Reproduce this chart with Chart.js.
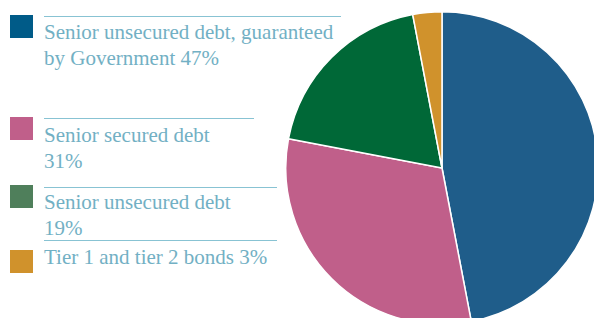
<!DOCTYPE HTML>
<html lang="en">
<head>
    <meta charset="utf-8">
    <title>Debt composition</title>
    <script src="https://cdn.jsdelivr.net/npm/chart.js@4.4.1/dist/chart.umd.min.js"></script>
    <style>
        html, body {
            margin: 0;
            padding: 0;
            width: 594px;
            height: 318px;
            overflow: hidden;
            background: #fff;
        }

        #pie-wrap {
            position: absolute;
            left: 285px;
            top: 11px;
        }

        .swatch {
            position: absolute;
            left: 10px;
            width: 23px;
            height: 23px;
        }

        .rule {
            position: absolute;
            left: 44px;
            height: 1px;
            background: #88c3d3;
        }

        .label {
            position: absolute;
            left: 44px;
            font-family: "Liberation Serif", "Times New Roman", serif;
            font-size: 21px;
            line-height: 26px;
            color: #72b0c4;
            white-space: pre;
        }
    </style>
</head>
<body>
    <div id="legend"></div>
    <div id="pie-wrap"><canvas id="pie" width="314" height="314"></canvas></div>

    <script>
        // data
        const labels = [
            'Senior unsecured debt, guaranteed\nby Government',
            'Senior secured debt\n',
            'Senior unsecured debt\n',
            'Tier 1 and tier 2 bonds'
        ];
        const shares = [47, 31, 19, 3];
        const sliceColors = ['#1f5d8a', '#c05f8a', '#006837', '#d0922c'];
        const swatchColors = ['#005b88', '#c05f8a', '#4f7f5b', '#d0922c'];

        // legend layout (swatch top, rule top, rule width, text top)
        const legendLayout = [
            { swatch: 15, rule: 16, ruleWidth: 297, text: 19 },
            { swatch: 117, rule: 118, ruleWidth: 210, text: 122 },
            { swatch: 185, rule: 187, ruleWidth: 233, text: 189 },
            { swatch: 250, rule: 240, ruleWidth: 233, text: 244 }
        ];

        const legend = document.getElementById('legend');
        labels.forEach((label, i) => {
            const pos = legendLayout[i];

            const sw = document.createElement('div');
            sw.className = 'swatch';
            sw.style.top = pos.swatch + 'px';
            sw.style.background = swatchColors[i];
            legend.appendChild(sw);

            const rule = document.createElement('div');
            rule.className = 'rule';
            rule.style.top = pos.rule + 'px';
            rule.style.width = pos.ruleWidth + 'px';
            legend.appendChild(rule);

            const txt = document.createElement('div');
            txt.className = 'label';
            txt.style.top = pos.text + 'px';
            txt.textContent = label + (label.endsWith('\n') ? '' : ' ') + shares[i] + '%';
            legend.appendChild(txt);
        });

        new Chart(document.getElementById('pie').getContext('2d'), {
            type: 'pie',
            data: {
                labels: labels,
                datasets: [{
                    data: shares,
                    backgroundColor: sliceColors,
                    borderColor: '#ffffff',
                    borderWidth: 1.5
                }]
            },
            options: {
                responsive: false,
                animation: false,
                layout: { padding: 0 },
                plugins: {
                    legend: { display: false },
                    tooltip: { enabled: false }
                }
            }
        });
    </script>
</body>
</html>
